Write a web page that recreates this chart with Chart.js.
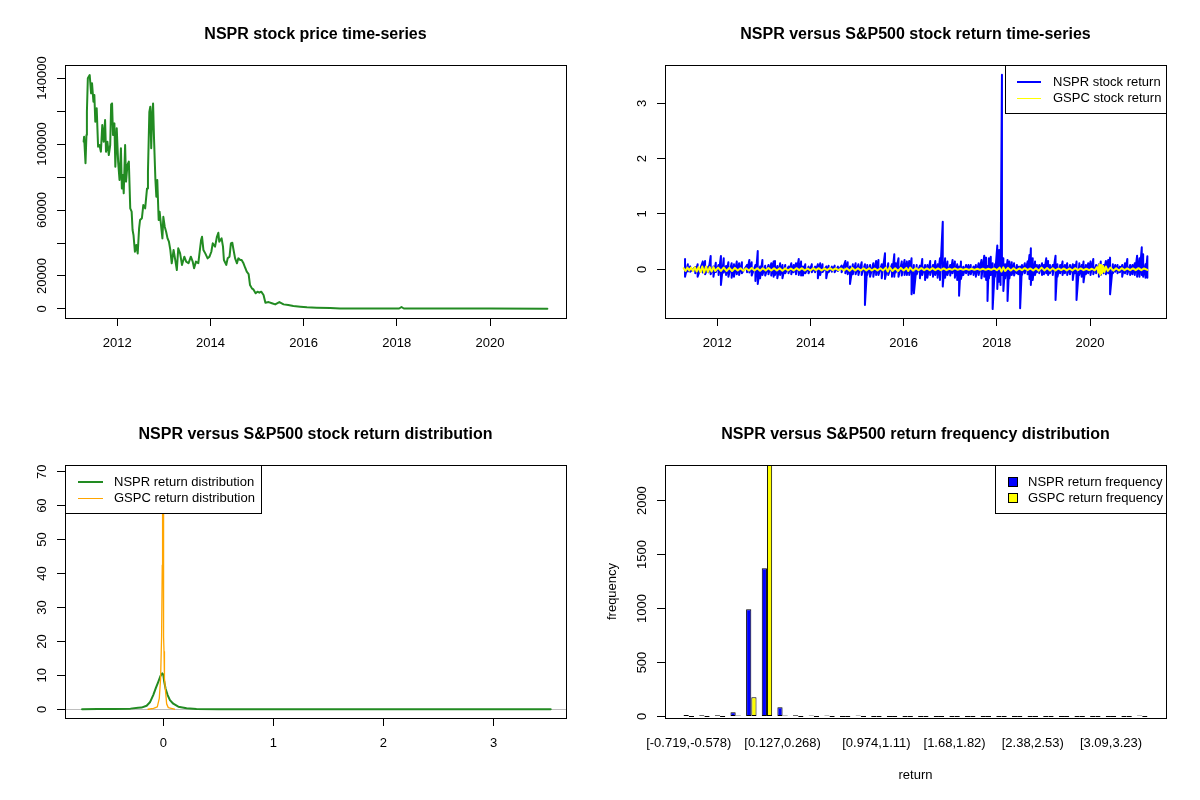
<!DOCTYPE html>
<html>
<head>
<meta charset="utf-8">
<title>NSPR versus S&amp;P500</title>
<script src="https://cdn.jsdelivr.net/npm/chart.js@4.4.1/dist/chart.umd.min.js"></script>
<style>
  html, body { margin: 0; padding: 0; background: #fff; }
  #page { position: relative; width: 1200px; height: 800px; }
  #page canvas { position: absolute; }
</style>
</head>
<body>
<div id="page">
  <canvas id="priceChart" width="600" height="400" style="left:0;top:0"></canvas>
  <canvas id="returnChart" width="600" height="400" style="left:600px;top:0"></canvas>
  <canvas id="densityChart" width="600" height="400" style="left:0;top:400px"></canvas>
  <canvas id="freqChart" width="600" height="400" style="left:600px;top:400px"></canvas>
</div>
<script>
// ---- NSPR price (decimal year, price) ----
const priceYears = [
  2011.28, 2011.29, 2011.32, 2011.34, 2011.35, 2011.37, 2011.41, 2011.44, 2011.46, 2011.49,
  2011.51, 2011.53, 2011.56, 2011.59, 2011.62, 2011.65, 2011.68, 2011.71, 2011.74, 2011.76,
  2011.79, 2011.82, 2011.85, 2011.87, 2011.89, 2011.91, 2011.94, 2011.96, 2011.99, 2012.02,
  2012.05, 2012.08, 2012.10, 2012.12, 2012.14, 2012.17, 2012.19, 2012.22, 2012.25, 2012.28,
  2012.31, 2012.33, 2012.35, 2012.38, 2012.41, 2012.44, 2012.47, 2012.49, 2012.53, 2012.56,
  2012.60, 2012.64, 2012.66, 2012.69, 2012.71, 2012.73, 2012.75, 2012.77, 2012.79, 2012.82,
  2012.84, 2012.86, 2012.89, 2012.91, 2012.94, 2012.97, 2012.99, 2013.02, 2013.05, 2013.08,
  2013.11, 2013.14, 2013.17, 2013.21, 2013.24, 2013.28, 2013.31, 2013.35, 2013.39, 2013.44,
  2013.48, 2013.53, 2013.58, 2013.62, 2013.65, 2013.69, 2013.74, 2013.77, 2013.80, 2013.82,
  2013.85, 2013.89, 2013.94, 2013.98, 2014.02, 2014.05, 2014.10, 2014.14, 2014.17, 2014.19,
  2014.24, 2014.27, 2014.29, 2014.34, 2014.37, 2014.41, 2014.44, 2014.47, 2014.49, 2014.53,
  2014.57, 2014.60, 2014.64, 2014.67, 2014.71, 2014.75, 2014.78, 2014.82, 2014.85, 2014.89,
  2014.92, 2014.97, 2015.01, 2015.05, 2015.09, 2015.14, 2015.18, 2015.25, 2015.32, 2015.39,
  2015.48, 2015.57, 2015.67, 2015.78, 2015.93, 2016.07, 2016.28, 2016.57, 2016.78, 2017.50,
  2018.05, 2018.10, 2018.15, 2019.00, 2020.00, 2021.23
];
const priceValues = [
  101400, 104400, 88300, 105400, 119500, 139800, 141800, 130700, 136800, 125600,
  129700, 113500, 121600, 98400, 99400, 95300, 111500, 101400, 114500, 95300,
  101400, 93300, 99400, 124000, 124600, 105400, 112500, 86200, 109500, 89300,
  78200, 97400, 73100, 81200, 70100, 99400, 77200, 87300, 89300, 61000,
  59000, 47900, 44800, 34700, 38800, 33700, 48900, 53900, 55000, 63000,
  61000, 73100, 83200, 119500, 122600, 97400, 117600, 124600, 103400, 78200,
  68100, 78200, 53900, 59000, 50900, 42800, 55900, 49900, 46800, 42800,
  40800, 35800, 27700, 35800, 30700, 23600, 36800, 33700, 26700, 31700,
  28700, 27700, 31700, 28700, 24700, 28700, 27700, 34700, 41800, 43800,
  35800, 33700, 30700, 31700, 34700, 39800, 37800, 43800, 46200, 40800,
  42800, 37800, 29700, 26700, 30700, 31700, 39800, 40200, 36800, 30700,
  27700, 30700, 29700, 29700, 27700, 24700, 22600, 21200, 14500, 12500,
  11900, 9500, 10500, 9900, 10500, 8500, 3800, 4200, 3500, 2800,
  4200, 2800, 2400, 1800, 1400, 1000, 800, 600, 300, 300,
  300, 1200, 300, 250, 250, 200
];

// ---- NSPR daily return: swing high / low around each date ----
const nsprRetYears = [
  2011.31, 2011.37, 2011.42, 2011.53, 2011.58, 2011.69, 2011.74, 2011.81, 2011.86, 2011.92,
  2011.97, 2012.03, 2012.08, 2012.14, 2012.19, 2012.24, 2012.31, 2012.36, 2012.42, 2012.47,
  2012.53, 2012.64, 2012.69, 2012.74, 2012.82, 2012.87, 2012.92, 2012.97, 2013.03, 2013.10,
  2013.16, 2013.21, 2013.24, 2013.29, 2013.35, 2013.40, 2013.46, 2013.53, 2013.59, 2013.64,
  2013.69, 2013.75, 2013.80, 2013.84, 2013.89, 2013.96, 2014.03, 2014.10, 2014.16, 2014.21,
  2014.26, 2014.34, 2014.39, 2014.46, 2014.52, 2014.59, 2014.67, 2014.75, 2014.80, 2014.85,
  2014.91, 2014.97, 2015.03, 2015.10, 2015.17, 2015.22, 2015.28, 2015.35, 2015.41, 2015.46,
  2015.53, 2015.60, 2015.67, 2015.75, 2015.80, 2015.83, 2015.89, 2015.96, 2016.02, 2016.07,
  2016.12, 2016.17, 2016.22, 2016.28, 2016.35, 2016.40, 2016.46, 2016.51, 2016.57, 2016.63,
  2016.68, 2016.73, 2016.78, 2016.84, 2016.89, 2016.94, 2017.00, 2017.05, 2017.10, 2017.15,
  2017.19, 2017.23, 2017.28, 2017.34, 2017.39, 2017.44, 2017.50, 2017.55, 2017.61, 2017.67,
  2017.73, 2017.77, 2017.80, 2017.83, 2017.87, 2017.91, 2017.96, 2018.01, 2018.05, 2018.08,
  2018.11, 2018.14, 2018.18, 2018.23, 2018.27, 2018.32, 2018.37, 2018.43, 2018.46, 2018.50,
  2018.54, 2018.60, 2018.66, 2018.70, 2018.73, 2018.77, 2018.82, 2018.86, 2018.91, 2018.97,
  2019.01, 2019.06, 2019.10, 2019.14, 2019.20, 2019.26, 2019.30, 2019.36, 2019.41, 2019.46,
  2019.51, 2019.57, 2019.63, 2019.67, 2019.71, 2019.77, 2019.82, 2019.86, 2019.91, 2019.96,
  2020.01, 2020.07, 2020.13, 2020.19, 2020.23, 2020.29, 2020.34, 2020.39, 2020.43, 2020.49,
  2020.54, 2020.59, 2020.64, 2020.69, 2020.75, 2020.80, 2020.86, 2020.91, 2020.96, 2021.01,
  2021.06, 2021.11, 2021.14, 2021.19, 2021.23
];
const nsprRetHigh = [
  0.187, 0.090, 0.050, 0.040, 0.090, 0.139, 0.151, 0.048, 0.241, 0.050,
  0.120, 0.078, 0.241, 0.199, 0.060, 0.127, 0.108, 0.090, 0.139, 0.108,
  0.127, 0.078, 0.169, 0.127, 0.078, 0.331, 0.050, 0.169, 0.066, 0.078,
  0.108, 0.139, 0.151, 0.060, 0.108, 0.078, 0.078, 0.048, 0.108, 0.078,
  0.108, 0.187, 0.139, 0.050, 0.090, 0.048, 0.090, 0.048, 0.090, 0.108,
  0.090, 0.050, 0.066, 0.048, 0.066, 0.048, 0.066, 0.151, 0.127, 0.050,
  0.090, 0.108, 0.090, 0.127, 0.090, 0.078, 0.078, 0.108, 0.151, 0.169,
  0.090, 0.289, 0.108, 0.090, 0.271, 0.108, 0.199, 0.139, 0.169, 0.139,
  0.151, 0.199, 0.078, 0.078, 0.066, 0.187, 0.078, 0.078, 0.151, 0.078,
  0.151, 0.090, 0.199, 0.861, 0.199, 0.139, 0.078, 0.169, 0.139, 0.090,
  0.050, 0.139, 0.048, 0.078, 0.078, 0.078, 0.048, 0.078, 0.108, 0.169,
  0.247, 0.211, 0.060, 0.199, 0.229, 0.108, 0.090, 0.428, 0.349, 0.199,
  3.515, 0.199, 0.090, 0.169, 0.139, 0.127, 0.108, 0.078, 0.048, 0.050,
  0.078, 0.108, 0.139, 0.259, 0.380, 0.199, 0.139, 0.078, 0.078, 0.108,
  0.078, 0.199, 0.151, 0.078, 0.078, 0.247, 0.090, 0.078, 0.139, 0.078,
  0.108, 0.078, 0.090, 0.078, 0.139, 0.108, 0.078, 0.139, 0.078, 0.108,
  0.139, 0.187, 0.078, 0.090, 0.139, 0.078, 0.151, 0.169, 0.211, 0.090,
  0.078, 0.078, 0.048, 0.078, 0.108, 0.187, 0.078, 0.078, 0.108, 0.247,
  0.199, 0.398, 0.271, 0.090, 0.235
];
const nsprRetLow = [
  -0.133, -0.040, -0.042, -0.072, -0.133, -0.060, -0.090, -0.054, -0.090, -0.133,
  -0.050, -0.102, -0.283, -0.060, -0.102, -0.133, -0.151, -0.133, -0.090, -0.102,
  -0.072, -0.054, -0.060, -0.114, -0.211, -0.265, -0.163, -0.102, -0.114, -0.090,
  -0.114, -0.133, -0.102, -0.163, -0.102, -0.163, -0.072, -0.072, -0.090, -0.054,
  -0.090, -0.102, -0.114, -0.114, -0.072, -0.072, -0.054, -0.054, -0.163, -0.102,
  -0.050, -0.163, -0.054, -0.042, -0.054, -0.030, -0.054, -0.072, -0.090, -0.265,
  -0.090, -0.090, -0.102, -0.102, -0.645, -0.102, -0.133, -0.133, -0.102, -0.102,
  -0.163, -0.175, -0.102, -0.133, -0.133, -0.060, -0.133, -0.114, -0.102, -0.102,
  -0.102, -0.452, -0.434, -0.090, -0.163, -0.102, -0.193, -0.151, -0.102, -0.133,
  -0.102, -0.151, -0.193, -0.313, -0.151, -0.102, -0.114, -0.072, -0.151, -0.193,
  -0.476, -0.175, -0.102, -0.072, -0.102, -0.090, -0.102, -0.133, -0.102, -0.163,
  -0.133, -0.193, -0.572, -0.163, -0.102, -0.719, -0.133, -0.355, -0.223, -0.283,
  -0.102, -0.392, -0.163, -0.572, -0.163, -0.102, -0.114, -0.072, -0.090, -0.705,
  -0.102, -0.072, -0.090, -0.175, -0.283, -0.193, -0.102, -0.054, -0.072, -0.102,
  -0.090, -0.072, -0.102, -0.072, -0.102, -0.554, -0.133, -0.072, -0.102, -0.072,
  -0.102, -0.090, -0.193, -0.072, -0.554, -0.102, -0.133, -0.235, -0.090, -0.072,
  -0.102, -0.090, -0.072, -0.133, -0.102, -0.072, -0.090, -0.072, -0.452, -0.072,
  -0.042, -0.072, -0.054, -0.133, -0.072, -0.090, -0.102, -0.090, -0.102, -0.133,
  -0.133, -0.102, -0.133, -0.151, -0.151
];

// ---- GSPC daily return ----
const gspcRetYears = [
  2011.28, 2011.32, 2011.36, 2011.40, 2011.44, 2011.48, 2011.52, 2011.56, 2011.60, 2011.64,
  2011.68, 2011.72, 2011.76, 2011.80, 2011.84, 2011.88, 2011.92, 2011.96, 2012.02, 2012.08,
  2012.14, 2012.20, 2012.26, 2012.32, 2012.38, 2012.44, 2012.50, 2012.56, 2012.62, 2012.68,
  2012.74, 2012.80, 2012.86, 2012.92, 2012.98, 2013.04, 2013.10, 2013.16, 2013.22, 2013.28,
  2013.34, 2013.40, 2013.46, 2013.52, 2013.58, 2013.64, 2013.70, 2013.76, 2013.82, 2013.88,
  2013.94, 2014.00, 2014.06, 2014.12, 2014.18, 2014.24, 2014.30, 2014.36, 2014.42, 2014.48,
  2014.54, 2014.60, 2014.66, 2014.72, 2014.78, 2014.84, 2014.90, 2014.96, 2015.02, 2015.08,
  2015.14, 2015.20, 2015.26, 2015.32, 2015.38, 2015.44, 2015.50, 2015.56, 2015.62, 2015.66,
  2015.70, 2015.76, 2015.82, 2015.88, 2015.94, 2016.00, 2016.06, 2016.10, 2016.14, 2016.20,
  2016.26, 2016.32, 2016.38, 2016.44, 2016.50, 2016.56, 2016.62, 2016.68, 2016.74, 2016.80,
  2016.86, 2016.92, 2016.98, 2017.04, 2017.10, 2017.16, 2017.22, 2017.28, 2017.34, 2017.40,
  2017.46, 2017.52, 2017.58, 2017.64, 2017.70, 2017.76, 2017.82, 2017.88, 2017.94, 2018.00,
  2018.06, 2018.10, 2018.14, 2018.18, 2018.24, 2018.30, 2018.36, 2018.42, 2018.48, 2018.54,
  2018.60, 2018.66, 2018.72, 2018.78, 2018.84, 2018.90, 2018.96, 2019.02, 2019.08, 2019.14,
  2019.20, 2019.26, 2019.32, 2019.38, 2019.44, 2019.50, 2019.56, 2019.62, 2019.68, 2019.74,
  2019.80, 2019.86, 2019.92, 2019.98, 2020.04, 2020.10, 2020.15, 2020.18, 2020.20, 2020.22,
  2020.24, 2020.26, 2020.28, 2020.31, 2020.34, 2020.38, 2020.44, 2020.50, 2020.56, 2020.62,
  2020.68, 2020.74, 2020.80, 2020.86, 2020.92, 2020.98, 2021.04, 2021.10, 2021.16, 2021.23
];
const gspcRetValues = [
  0.02, -0.03, 0.03, -0.02, 0.03, -0.03, 0.04, -0.04, 0.04, -0.05,
  0.05, -0.06, 0.05, -0.05, 0.04, -0.04, 0.04, -0.03, 0.03, -0.03,
  0.03, -0.03, 0.025, -0.03, 0.025, -0.02, 0.02, -0.025, 0.02, -0.02,
  0.025, -0.02, 0.02, -0.025, 0.02, -0.02, 0.025, -0.02, 0.02, -0.02,
  0.02, -0.025, 0.02, -0.02, 0.015, -0.02, 0.02, -0.015, 0.02, -0.02,
  0.015, -0.02, 0.02, -0.015, 0.02, -0.02, 0.015, -0.015, 0.02, -0.015,
  0.015, -0.015, 0.015, -0.02, 0.02, -0.025, 0.025, -0.02, 0.02, -0.02,
  0.02, -0.02, 0.02, -0.02, 0.015, -0.02, 0.02, -0.02, 0.03, -0.04,
  0.035, -0.03, 0.02, -0.03, 0.025, -0.02, 0.025, -0.03, 0.03, -0.025,
  0.02, -0.015, 0.02, -0.015, 0.015, -0.015, 0.02, -0.015, 0.015, -0.015,
  0.015, -0.015, 0.01, -0.01, 0.015, -0.01, 0.01, -0.01, 0.01, -0.01,
  0.01, -0.01, 0.01, -0.01, 0.01, -0.01, 0.01, -0.01, 0.015, -0.015,
  0.03, -0.04, 0.035, -0.03, 0.025, -0.02, 0.02, -0.02, 0.015, -0.015,
  0.02, -0.015, 0.015, -0.02, 0.02, -0.025, 0.03, -0.02, 0.025, -0.02,
  0.02, -0.02, 0.015, -0.015, 0.015, -0.02, 0.015, -0.02, 0.02, -0.015,
  0.015, -0.015, 0.01, -0.015, 0.01, -0.02, 0.04, -0.06, 0.09, -0.1,
  0.08, -0.07, 0.06, -0.05, 0.05, -0.03, 0.03, -0.025, 0.02, -0.02,
  0.02, -0.015, 0.015, -0.015, 0.015, -0.015, 0.02, -0.015, 0.015, -0.01
];

// ---- return densities ----
const nsprDensX = [-0.74, -0.6, -0.45, -0.3, -0.23, -0.2, -0.153, -0.123, -0.093, -0.068,
  -0.047, -0.026, -0.011, -0.002, 0.007, 0.02, 0.038, 0.059, 0.089, 0.135,
  0.21, 0.3, 0.5, 0.85, 1.5, 2.5, 3.52];
const nsprDensY = [0.05, 0.1, 0.12, 0.2, 0.47, 0.5, 1.06, 2.06, 4.2, 6.4,
  8.1, 9.9, 10.6, 10.3, 8.1, 6.0, 4.2, 2.7, 1.65, 0.77,
  0.29, 0.12, 0.05, 0.05, 0.02, 0.02, 0.03];
const gspcDensX = [-0.14, -0.09, -0.056, -0.038, -0.026, -0.017, -0.011, -0.008, -0.004, 0.0,
  0.002, 0.005, 0.007, 0.011, 0.02, 0.029, 0.044, 0.07, 0.1];
const gspcDensY = [0.02, 0.3, 0.7, 3.2, 9.1, 21.4, 42.5, 57.8, 69.0, 60.0,
  21.4, 17.0, 15.5, 9.1, 4.9, 1.6, 0.5, 0.3, 0.02];

// ---- return frequency (30 bins) ----
const binLabels = [
  '[-0.719,-0.578)', '[-0.578,-0.437)', '[-0.437,-0.296)', '[-0.296,-0.155)', '[-0.155,-0.0145)',
  '[-0.0145,0.127)', '[0.127,0.268)', '[0.268,0.409)', '[0.409,0.55)', '[0.55,0.691)',
  '[0.691,0.832)', '[0.832,0.974)', '[0.974,1.11)', '[1.11,1.25)', '[1.25,1.39)',
  '[1.39,1.54)', '[1.54,1.68)', '[1.68,1.82)', '[1.82,1.96)', '[1.96,2.1)',
  '[2.1,2.24)', '[2.24,2.38)', '[2.38,2.53)', '[2.53,2.67)', '[2.67,2.81)',
  '[2.81,2.95)', '[2.95,3.09)', '[3.09,3.23)', '[3.23,3.37)', '[3.37,3.52]'
];
const nsprFreq = [15, 12, 12, 40, 994, 1373, 86, 12, 3, 1, 0, 1, 0, 0, 0,
  0, 0, 0, 0, 0, 0, 0, 0, 0, 0, 0, 0, 0, 0, 1];
const gspcFreq = [0, 0, 0, 2, 179, 2365, 2, 0, 0, 0, 0, 0, 0, 0, 0,
  0, 0, 0, 0, 0, 0, 0, 0, 0, 0, 0, 0, 0, 0, 0];

// ---- ticks ----
const yearTicks = [2012, 2014, 2016, 2018, 2020];
const priceTicks = [0, 20000, 40000, 60000, 80000, 100000, 120000, 140000];
const priceTickLabels = ['0', '20000', '', '60000', '', '100000', '', '140000'];
const returnTicks = [0, 1, 2, 3];
const densXTicks = [0, 1, 2, 3];
const densYTicks = [0, 10, 20, 30, 40, 50, 60, 70];
const freqTicks = [0, 500, 1000, 1500, 2000];
const binTickIdx = [1, 7, 13, 18, 23, 28];

const FONT = '"Liberation Sans", Arial, Helvetica, sans-serif';
Chart.defaults.font.family = FONT;
Chart.defaults.color = '#000';

const pts = (xs, ys) => xs.map((x, i) => ({ x: x, y: ys[i] }));

// frame settings per canvas, kept outside Chart.js option resolving
const frames = {};

function drawLegend(ctx, a, lg) {
  const left = lg.side === 'right' ? Math.round(a.right) - lg.width : Math.round(a.left);
  const top = Math.round(a.top);
  ctx.fillStyle = '#fff';
  ctx.fillRect(left, top, lg.width, lg.height);
  ctx.strokeStyle = '#000';
  ctx.lineWidth = 1;
  ctx.strokeRect(left + 0.5, top + 0.5, lg.width, lg.height);
  ctx.textAlign = 'left';
  ctx.textBaseline = 'middle';
  ctx.font = '13px ' + FONT;
  lg.items.forEach((it, i) => {
    const y = top + lg.rows[i];
    if (it.kind === 'box') {
      ctx.fillStyle = it.swatch;
      ctx.fillRect(left + lg.sample[0] + 0.5, Math.round(y) - 4.5, 9, 9);
      ctx.strokeStyle = '#000';
      ctx.lineWidth = 1;
      ctx.strokeRect(left + lg.sample[0] + 0.5, Math.round(y) - 4.5, 9, 9);
    } else {
      const yy = it.lw % 2 ? Math.round(y) + 0.5 : Math.round(y);
      ctx.strokeStyle = it.swatch;
      ctx.lineWidth = it.lw;
      ctx.beginPath();
      ctx.moveTo(left + lg.sample[0], yy);
      ctx.lineTo(left + lg.sample[1], yy);
      ctx.stroke();
    }
    ctx.fillStyle = '#000';
    ctx.fillText(it.label, left + lg.textX, y);
  });
}

// R style frame: box, title, rotated y labels, axis titles, boxed legend
const rFrame = {
  id: 'rFrame',
  beforeDatasetsDraw(chart) {
    const f = frames[chart.canvas.id];
    if (!f || !f.zeroLine) return;
    const a = chart.chartArea, ctx = chart.ctx;
    const y = Math.round(chart.scales.y.getPixelForValue(0)) + 0.5;
    ctx.save();
    ctx.strokeStyle = f.zeroLine;
    ctx.lineWidth = 1;
    ctx.beginPath();
    ctx.moveTo(a.left, y);
    ctx.lineTo(a.right, y);
    ctx.stroke();
    ctx.restore();
  },
  afterDraw(chart) {
    const f = frames[chart.canvas.id];
    if (!f) return;
    const ctx = chart.ctx, a = chart.chartArea;
    const xs = chart.scales.x, ys = chart.scales.y;
    ctx.save();
    ctx.strokeStyle = '#000';
    ctx.lineWidth = 1;
    ctx.strokeRect(Math.round(a.left) + 0.5, Math.round(a.top) + 0.5,
      Math.round(a.right - a.left), Math.round(a.bottom - a.top));
    ctx.fillStyle = '#000';
    ctx.textAlign = 'center';
    ctx.textBaseline = 'middle';
    ctx.font = 'bold 16px ' + FONT;
    ctx.fillText(f.title, (a.left + a.right) / 2, a.top - 30);
    ctx.font = '13px ' + FONT;
    f.xLabels.forEach((t, i) => {
      if (t) ctx.fillText(t, xs.getPixelForValue(f.xAt[i]), a.bottom + 25);
    });
    f.yLabels.forEach((t, i) => {
      if (!t) return;
      ctx.save();
      ctx.translate(a.left - 23, ys.getPixelForValue(f.yAt[i]));
      ctx.rotate(-Math.PI / 2);
      ctx.fillText(t, 0, 0);
      ctx.restore();
    });
    if (f.xTitle) ctx.fillText(f.xTitle, (a.left + a.right) / 2, a.bottom + 57);
    if (f.yTitle) {
      ctx.save();
      ctx.translate(a.left - 53, (a.top + a.bottom) / 2);
      ctx.rotate(-Math.PI / 2);
      ctx.fillText(f.yTitle, 0, 0);
      ctx.restore();
    }
    if (f.legend) drawLegend(ctx, a, f.legend);
    ctx.restore();
  }
};

function axis(cfg, which) {
  return {
    type: 'linear',
    min: cfg.min,
    max: cfg.max,
    offset: false,
    afterBuildTicks: s => { s.ticks = cfg.ticks.map(v => ({ value: v })); },
    afterFit: s => { if (which === 'x') s.height = 82; else s.width = 65; },
    ticks: { display: false },
    grid: cfg.noTicks
      ? { display: false }
      : { display: true, drawOnChartArea: false, drawTicks: true, tickLength: 8, color: '#000', lineWidth: 1, offset: false },
    border: { display: !cfg.noTicks, color: '#000', width: 1 }
  };
}

function baseOptions(xCfg, yCfg) {
  return {
    responsive: false,
    animation: false,
    devicePixelRatio: 1,
    layout: { padding: { left: 0, top: 65, right: 34, bottom: 0 } },
    plugins: {
      legend: { display: false },
      title: { display: false },
      tooltip: { enabled: false }
    },
    scales: { x: axis(xCfg, 'x'), y: axis(yCfg, 'y') }
  };
}

const lineStyle = { pointRadius: 0, tension: 0, borderJoinStyle: 'round', borderCapStyle: 'round', clip: 0, fill: false };
const legendRows = [17, 33];

// Panel 1: price
frames.priceChart = {
  title: 'NSPR stock price time-series',
  xAt: yearTicks, xLabels: yearTicks.map(String),
  yAt: priceTicks, yLabels: priceTickLabels
};
new Chart(document.getElementById('priceChart'), {
  type: 'line',
  data: {
    datasets: [Object.assign({ data: pts(priceYears, priceValues), borderColor: '#228B22', borderWidth: 2 }, lineStyle)]
  },
  options: baseOptions(
    { min: 2010.88, max: 2021.63, ticks: yearTicks },
    { min: -5455, max: 147880, ticks: priceTicks }
  ),
  plugins: [rFrame]
});

// Panel 2: returns
frames.returnChart = {
  title: 'NSPR versus S&P500 stock return time-series',
  xAt: yearTicks, xLabels: yearTicks.map(String),
  yAt: returnTicks, yLabels: returnTicks.map(String),
  legend: { side: 'right', width: 161, height: 48, sample: [12, 36], textX: 48, rows: legendRows,
    items: [{ kind: 'line', label: 'NSPR stock return', swatch: '#0000FF', lw: 2 },
            { kind: 'line', label: 'GSPC stock return', swatch: '#FFFF00', lw: 1 }] }
};
const nsprRetPoints = nsprRetYears.flatMap((t, i) => [{ x: t, y: nsprRetHigh[i] }, { x: t, y: nsprRetLow[i] }]);
new Chart(document.getElementById('returnChart'), {
  type: 'line',
  data: {
    datasets: [
      Object.assign({ data: nsprRetPoints, borderColor: '#0000FF', borderWidth: 2, order: 1 }, lineStyle),
      Object.assign({ data: pts(gspcRetYears, gspcRetValues), borderColor: '#FFFF00', borderWidth: 2, order: 0 }, lineStyle)
    ]
  },
  options: baseOptions(
    { min: 2010.88, max: 2021.63, ticks: yearTicks },
    { min: -0.88, max: 3.692, ticks: returnTicks }
  ),
  plugins: [rFrame]
});

// Panel 3: densities
frames.densityChart = {
  title: 'NSPR versus S&P500 stock return distribution',
  xAt: densXTicks, xLabels: densXTicks.map(String),
  yAt: densYTicks, yLabels: densYTicks.map(String), zeroLine: '#BEBEBE',
  legend: { side: 'left', width: 196, height: 48, sample: [13, 38], textX: 49, rows: legendRows,
    items: [{ kind: 'line', label: 'NSPR return distribution', swatch: '#228B22', lw: 2 },
            { kind: 'line', label: 'GSPC return distribution', swatch: '#FFA500', lw: 1 }] }
};
new Chart(document.getElementById('densityChart'), {
  type: 'line',
  data: {
    datasets: [
      Object.assign({ data: pts(nsprDensX, nsprDensY), borderColor: '#228B22', borderWidth: 2, order: 1 }, lineStyle),
      Object.assign({ data: pts(gspcDensX, gspcDensY), borderColor: '#FFA500', borderWidth: 1.3, order: 0 }, lineStyle)
    ]
  },
  options: baseOptions(
    { min: -0.895, max: 3.659, ticks: densXTicks },
    { min: -2.56, max: 71.97, ticks: densYTicks }
  ),
  plugins: [rFrame]
});

// Panel 4: frequency bars
frames.freqChart = {
  title: 'NSPR versus S&P500 return frequency distribution',
  xAt: binTickIdx, xLabels: binTickIdx.map(i => binLabels[i - 1]),
  yAt: freqTicks, yLabels: freqTicks.map(String), xTitle: 'return', yTitle: 'frequency',
  legend: { side: 'right', width: 171, height: 48, sample: [13, 22], textX: 33, rows: legendRows,
    items: [{ kind: 'box', label: 'NSPR return frequency', swatch: '#0000FF' },
            { kind: 'box', label: 'GSPC return frequency', swatch: '#FFFF00' }] }
};
const binIdx = binLabels.map((_, i) => i + 1);
const barStyle = { borderColor: '#000', borderWidth: 1, borderSkipped: false, minBarLength: 1,
  barPercentage: 1, categoryPercentage: 2 / 3, clip: 0, inflateAmount: 0 };
new Chart(document.getElementById('freqChart'), {
  type: 'bar',
  data: {
    datasets: [
      Object.assign({ data: pts(binIdx, nsprFreq), backgroundColor: '#0000FF' }, barStyle),
      Object.assign({ data: pts(binIdx, gspcFreq), backgroundColor: '#FFFF00' }, barStyle)
    ]
  },
  options: baseOptions(
    { min: -0.52, max: 31.52, ticks: binTickIdx, noTicks: true },
    { min: -13.9, max: 2330, ticks: freqTicks }
  ),
  plugins: [rFrame]
});
</script>
</body>
</html>
